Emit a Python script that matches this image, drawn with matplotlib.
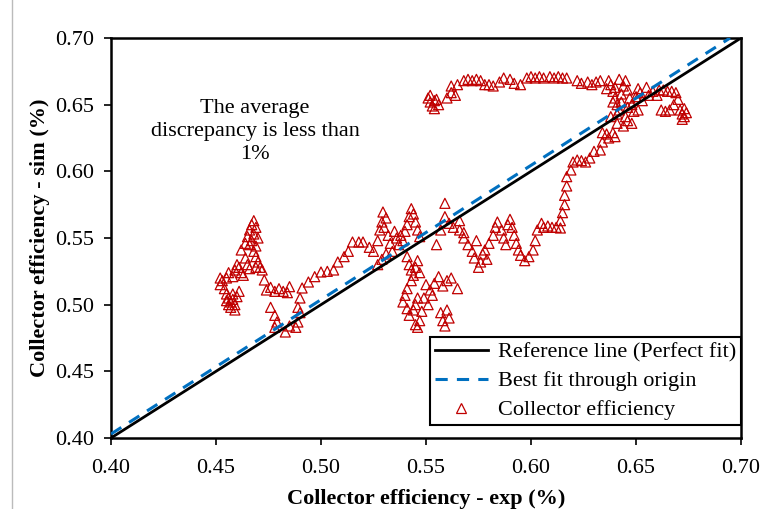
import matplotlib
matplotlib.use("Agg")
import matplotlib.pyplot as plt
from matplotlib.lines import Line2D
import numpy as np

plt.rcParams['font.family'] = ['Liberation Serif', 'DejaVu Serif']

# Data (exp, sim)
left_cluster = [(0.452,0.520),(0.452,0.515),(0.453,0.518),(0.454,0.512),(0.455,0.508),(0.456,0.505),(0.457,0.502),(0.457,0.498),(0.458,0.504),(0.458,0.508),(0.459,0.500),(0.460,0.506),(0.461,0.510),(0.456,0.500),(0.455,0.503),(0.459,0.496),
    (0.458,0.521),(0.459,0.526),(0.460,0.530),(0.461,0.528),(0.462,0.524),(0.463,0.522),(0.456,0.524),(0.455,0.520),
    (0.462,0.541),(0.464,0.546),(0.465,0.551),(0.466,0.556),(0.467,0.560),(0.468,0.563),(0.469,0.558),(0.468,0.553),(0.467,0.548),(0.469,0.544),(0.468,0.540),(0.469,0.536),(0.470,0.532),(0.469,0.528),(0.471,0.528),(0.472,0.526),(0.466,0.545),(0.470,0.550),
    (0.464,0.535),(0.465,0.530),(0.466,0.527)]
rise_1 = [(0.473,0.5185),(0.474,0.511),(0.476,0.513),(0.478,0.510),(0.480,0.512),(0.482,0.510),(0.484,0.509),(0.485,0.5135),(0.476,0.498),(0.478,0.492),(0.479,0.487),(0.478,0.483),(0.483,0.4795),(0.485,0.484),(0.488,0.483),(0.489,0.487),(0.490,0.494),(0.489,0.498),(0.490,0.505),(0.491,0.5125),(0.494,0.517),(0.497,0.521),(0.500,0.5245),(0.503,0.525),(0.506,0.526),(0.508,0.532),(0.511,0.536),(0.513,0.540),(0.515,0.547),(0.518,0.547),(0.520,0.547),(0.523,0.543)]
mid_cluster = [(0.525,0.540),(0.527,0.548),(0.528,0.556),(0.529,0.562),(0.5295,0.5695),(0.531,0.565),(0.530,0.558),(0.532,0.552),(0.533,0.546),(0.534,0.540),(0.535,0.555),(0.536,0.550),(0.537,0.545),(0.538,0.552),(0.539,0.548),(0.540,0.555),(0.541,0.560),(0.542,0.566),(0.543,0.572),(0.544,0.568),(0.545,0.562),(0.546,0.556),(0.547,0.551),(0.527,0.530),(0.529,0.534),(0.531,0.538),
    (0.541,0.536),(0.542,0.530),(0.543,0.526),(0.544,0.522),(0.545,0.528),(0.546,0.533),(0.547,0.524),(0.543,0.518),(0.541,0.512),(0.540,0.507),(0.539,0.502),(0.541,0.497),(0.542,0.492),(0.544,0.496),(0.545,0.500),(0.546,0.505),(0.547,0.488),(0.546,0.483),(0.545,0.485),(0.548,0.495),
    (0.550,0.515),(0.552,0.511),(0.554,0.516),(0.556,0.521),(0.558,0.514),(0.560,0.518),(0.562,0.520),(0.565,0.512),(0.557,0.494),(0.558,0.488),(0.559,0.484),(0.561,0.490),(0.560,0.496),(0.549,0.505),(0.551,0.500),(0.553,0.507),
    (0.555,0.545),(0.557,0.556),(0.559,0.566),(0.559,0.576),(0.561,0.561),(0.563,0.558),(0.566,0.563),(0.566,0.556),(0.568,0.550),(0.570,0.545),(0.572,0.540),(0.573,0.535),(0.575,0.528),(0.576,0.532),(0.577,0.538),(0.579,0.534),(0.578,0.541),(0.574,0.548),(0.568,0.554)]
rise_2 = [(0.580,0.546),(0.582,0.552),(0.583,0.558),(0.584,0.562),(0.586,0.556),(0.587,0.550),(0.588,0.545),(0.589,0.560),(0.590,0.564),(0.591,0.558),(0.592,0.552),(0.593,0.546),(0.594,0.541),(0.595,0.537),(0.597,0.533),(0.599,0.536),(0.601,0.541),(0.602,0.548),(0.603,0.556),(0.605,0.561),(0.606,0.558),(0.608,0.559),(0.610,0.558),(0.612,0.558),(0.614,0.5575),(0.614,0.563),(0.615,0.569),(0.616,0.575),(0.616,0.582),(0.617,0.589),(0.617,0.596),(0.619,0.601),(0.620,0.607),(0.622,0.6085),(0.624,0.608),(0.626,0.607),(0.628,0.610),(0.630,0.615),(0.633,0.616),(0.634,0.622),(0.636,0.628),(0.639,0.629),(0.641,0.636),(0.644,0.634),(0.646,0.638),(0.634,0.629),(0.637,0.625),(0.640,0.626)]
high_cluster = [(0.636,0.662),(0.637,0.668),(0.638,0.665),(0.639,0.660),(0.640,0.655),(0.641,0.650),(0.642,0.646),(0.643,0.658),(0.644,0.664),(0.645,0.668),(0.646,0.661),(0.647,0.655),(0.648,0.650),(0.649,0.645),(0.650,0.656),(0.651,0.662),(0.652,0.659),(0.653,0.653),(0.655,0.663),(0.656,0.657),(0.658,0.660),(0.660,0.657),(0.661,0.661),(0.638,0.641),(0.641,0.643),(0.645,0.641),(0.648,0.636),(0.651,0.646),(0.639,0.652),(0.642,0.669),(0.640,0.663),(0.643,0.652),(0.646,0.648),
    (0.663,0.661),(0.665,0.660),(0.667,0.660),(0.669,0.659),(0.670,0.654),(0.668,0.650),(0.662,0.646),(0.664,0.645),(0.666,0.646),(0.671,0.646),(0.672,0.643),(0.673,0.641),(0.674,0.644),(0.673,0.647),(0.672,0.639)]
top_branch = [(0.551,0.655),(0.552,0.652),(0.553,0.649),(0.554,0.647),(0.555,0.654),(0.556,0.650),(0.552,0.657),(0.554,0.653),(0.560,0.655),(0.562,0.659),(0.564,0.657),(0.562,0.664),(0.565,0.665),(0.568,0.668),(0.570,0.669),(0.572,0.668),(0.574,0.669),(0.576,0.668),(0.578,0.665),(0.580,0.665),(0.582,0.664),(0.585,0.667),(0.587,0.670),(0.590,0.669),(0.592,0.666),(0.595,0.665),(0.598,0.670),(0.600,0.671),(0.602,0.670),(0.604,0.671),(0.606,0.670),(0.609,0.671),(0.611,0.670),(0.613,0.671),(0.615,0.670),(0.617,0.670),(0.622,0.668),(0.624,0.666),(0.627,0.667),(0.629,0.665),(0.631,0.667),(0.633,0.668)]

points = left_cluster + rise_1 + mid_cluster + rise_2 + high_cluster + top_branch
exp_vals = [p[0] for p in points]
sim_vals = [p[1] for p in points]

ref_x = [0.40, 0.70]
fit_slope = 1.0075
axis_min, axis_max = 0.40, 0.70
ticks = [0.40, 0.45, 0.50, 0.55, 0.60, 0.65, 0.70]
tick_labels = ["0.40", "0.45", "0.50", "0.55", "0.60", "0.65", "0.70"]

FS = 16

fig = plt.figure(figsize=(7.64, 5.09), dpi=100)
ax = fig.add_axes([111/764, 1-438/509, 630/764, 400/509])

ax.scatter(exp_vals, sim_vals, marker='^', s=52, facecolors='none',
           edgecolors='#C00000', linewidths=0.9, zorder=2)
ax.plot(ref_x, ref_x, color='black', lw=2.0, zorder=3)
fx = np.array([0.40, axis_max / fit_slope])
ax.plot(fx, fit_slope * fx, color='#0070C0', lw=2.2, dashes=(4, 3), zorder=3)

ax.set_xlim(axis_min, axis_max)
ax.set_ylim(axis_min, axis_max)
ax.set_xticks(ticks)
ax.set_xticklabels(tick_labels)
ax.set_yticks(ticks)
ax.set_yticklabels(tick_labels)
ax.tick_params(direction='out', length=5, width=1.2, labelsize=FS, colors='black')
ax.tick_params(axis='x', pad=10)
ax.tick_params(axis='y', pad=7)
for s in ax.spines.values():
    s.set_linewidth(1.8)
    s.set_color('black')

ax.set_xlabel("Collector efficiency - exp (%)", fontsize=FS, fontweight='bold', labelpad=8)
ax.set_ylabel("Collector efficiency - sim (%)", fontsize=FS, fontweight='bold', labelpad=4)

ax.text(0.4686, 0.630, "The average\ndiscrepancy is less than\n1%", ha='center', va='center',
        fontsize=FS, linespacing=1.27)

handles = [Line2D([0], [0], color='black', lw=2.0),
           Line2D([0], [0], color='#0070C0', lw=2.2, dashes=(4, 3)),
           Line2D([0], [0], marker='^', ls='none', markerfacecolor='none',
                  markeredgecolor='#C00000', markersize=7, markeredgewidth=0.9)]
labels = ["Reference line (Perfect fit)", "Best fit through origin", "Collector efficiency"]
leg = ax.legend(handles, labels, loc='lower right', bbox_to_anchor=(1.0, 0.032),
                borderaxespad=0, fontsize=FS, frameon=True, fancybox=False,
                edgecolor='black', framealpha=1, handlelength=2.4, labelspacing=0.38,
                borderpad=0.22, handletextpad=0.45)
leg.get_frame().set_linewidth(1.5)

fig.add_artist(Line2D([12/764, 12/764], [0, 1], color='#bbbbbb', lw=1.0))

fig.savefig("out.png", dpi=100)
